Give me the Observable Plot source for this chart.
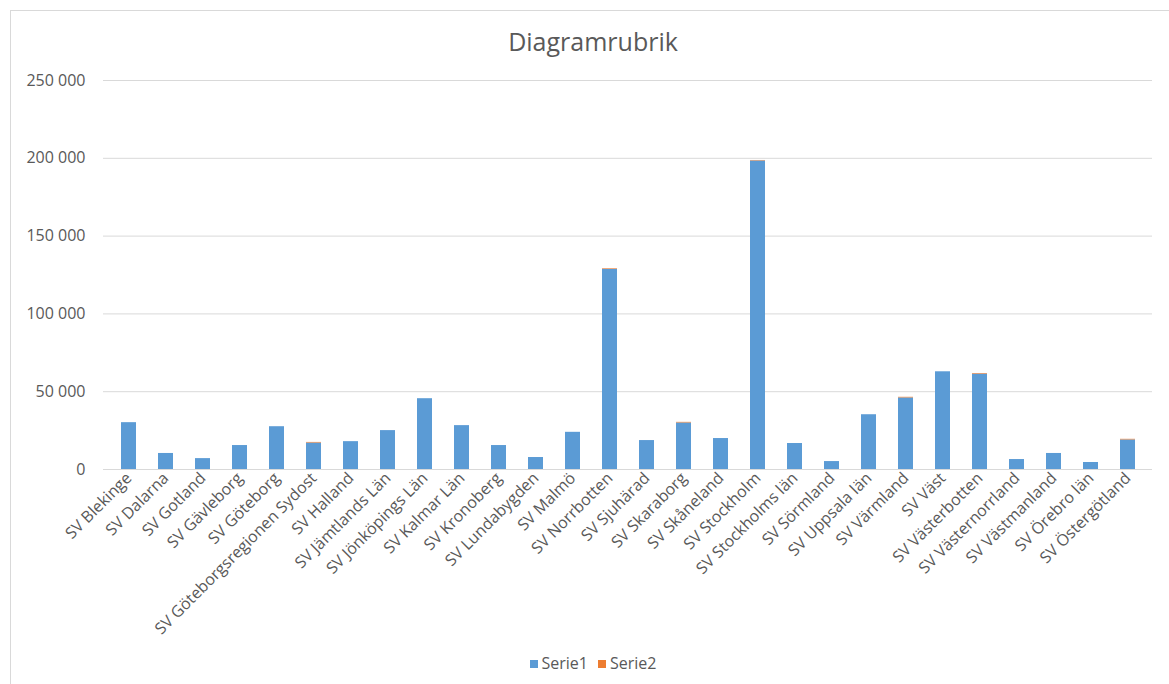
<!DOCTYPE html>
<html>
<head>
<meta charset="utf-8">
<script src="https://cdn.jsdelivr.net/npm/d3@7"></script>
<script src="https://cdn.jsdelivr.net/npm/@observablehq/plot@0.6"></script>
<style>
  html, body { margin: 0; padding: 0; background: #fff; }
  body { width: 1169px; height: 684px; position: relative; overflow: hidden; font-family: "Open Sans", sans-serif; }
  #frame { position: absolute; left: 10px; top: 10px; width: 1200px; height: 700px; border: 1px solid #d9d9d9; box-sizing: border-box; }
  #title { position: absolute; left: 0; width: 1186px; top: 29px; line-height: 25px; text-align: center; font-size: 25px; color: #595959; }
  #chart { position: absolute; left: 0; top: 60px; }
  #legend { position: absolute; left: 0; width: 1186px; top: 655px; line-height: 16px; text-align: center; font-size: 16px; color: #595959; }
  #legend span.sw { display: inline-block; width: 8px; height: 8px; margin-right: 4px; vertical-align: 1px; }
  #legend span.item { margin: 0 5px; }
</style>
</head>
<body>
<div id="frame"></div>
<div id="title">Diagramrubrik</div>
<div id="chart"></div>
<div id="legend"></div>
<script>
const categories = [
  "SV Blekinge", "SV Dalarna", "SV Gotland", "SV Gävleborg", "SV Göteborg",
  "SV Göteborgsregionen Sydost", "SV Halland", "SV Jämtlands Län", "SV Jönköpings Län",
  "SV Kalmar Län", "SV Kronoberg", "SV Lundabygden", "SV Malmö", "SV Norrbotten",
  "SV Sjuhärad", "SV Skaraborg", "SV Skåneland", "SV Stockholm", "SV Stockholms län",
  "SV Sörmland", "SV Uppsala län", "SV Värmland", "SV Väst", "SV Västerbotten",
  "SV Västernorrland", "SV Västmanland", "SV Örebro län", "SV Östergötland"
];
const serie1 = [
  30100, 10300, 7000, 15400, 27500,
  17000, 17900, 25000, 45500,
  28200, 15400, 7700, 23900, 128600,
  18600, 29900, 19900, 198300, 16700,
  5100, 35200, 46000, 62800, 61300,
  6400, 10300, 4500, 19000
];
const serie2 = [
  0, 0, 0, 0, 0,
  400, 0, 0, 0,
  0, 0, 0, 0, 400,
  0, 400, 0, 300, 0,
  0, 0, 400, 0, 400,
  0, 0, 0, 400
];
const seriesNames = ["Serie1", "Serie2"];
const seriesColors = ["#5B9BD5", "#ED7D31"];
const yTicks = [0, 50000, 100000, 150000, 200000, 250000];

const data = [];
categories.forEach((c, i) => {
  data.push({cat: c, series: "Serie1", value: serie1[i]});
  data.push({cat: c, series: "Serie2", value: serie2[i]});
});

const fmt = d => d3.format(",")(d).replace(/,/g, " ");

const plot = Plot.plot({
  width: 1169,
  height: 600,
  marginLeft: 103,
  marginRight: 17,
  marginTop: 20,
  marginBottom: 191,
  style: { fontFamily: "Open Sans, sans-serif", fontSize: "16px", color: "#595959", background: "transparent" },
  x: { domain: categories, paddingInner: 0.6, paddingOuter: 0.3, align: 0.5, label: null },
  y: { domain: [0, 250000], label: null },
  color: { domain: seriesNames, range: seriesColors },
  marks: [
    Plot.ruleY(yTicks, { stroke: "#d9d9d9", strokeWidth: 1 }),
    Plot.barY(data, Plot.stackY({ x: "cat", y: "value", fill: "series", order: seriesNames })),
    Plot.axisY({ ticks: yTicks, tickFormat: fmt, tickSize: 0, tickPadding: 18, label: null, fontSize: 16 }),
    Plot.axisX({ tickSize: 0, tickRotate: -45, tickPadding: 6, label: null, fontSize: 16 })
  ]
});
document.getElementById("chart").appendChild(plot);

const legend = document.getElementById("legend");
seriesNames.forEach((s, i) => {
  const item = document.createElement("span");
  item.className = "item";
  const sw = document.createElement("span");
  sw.className = "sw";
  sw.style.background = seriesColors[i];
  item.appendChild(sw);
  item.appendChild(document.createTextNode(s));
  legend.appendChild(item);
});
</script>
</body>
</html>
